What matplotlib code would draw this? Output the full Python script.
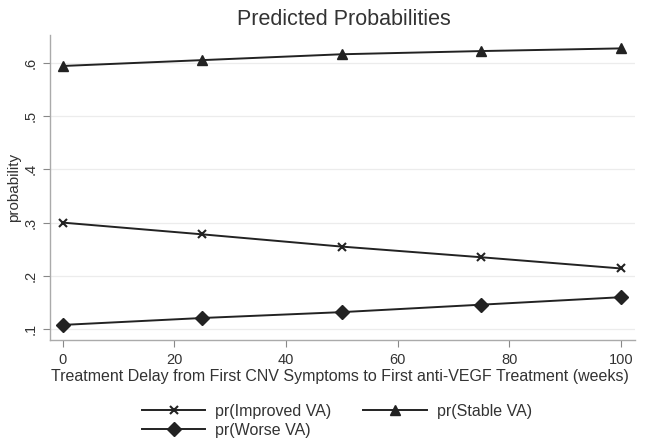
import matplotlib
matplotlib.use('Agg')
import matplotlib.pyplot as plt

# data
delay_weeks = [0, 25, 50, 75, 100]
pr_improved = [0.300, 0.278, 0.255, 0.235, 0.214]
pr_stable = [0.594, 0.605, 0.616, 0.622, 0.627]
pr_worse = [0.108, 0.121, 0.132, 0.146, 0.160]

y_ticks = [0.1, 0.2, 0.3, 0.4, 0.5, 0.6]
y_tick_labels = ['.1', '.2', '.3', '.4', '.5', '.6']
x_ticks = [0, 20, 40, 60, 80, 100]

plt.rcParams['font.family'] = ['Liberation Sans', 'DejaVu Sans']
txt = '#333333'
line_col = '#222222'

fig = plt.figure(figsize=(6.45, 4.44), dpi=100)
ax = fig.add_axes([0.0775, 0.234, 0.9065, 0.687])

h_imp, = ax.plot(delay_weeks, pr_improved, color=line_col, lw=1.4,
                 marker='x', ms=6, mew=1.5, label='pr(Improved VA)')
h_sta, = ax.plot(delay_weeks, pr_stable, color=line_col, lw=1.4,
                 marker='^', ms=7, label='pr(Stable VA)')
h_wor, = ax.plot(delay_weeks, pr_worse, color=line_col, lw=1.4,
                 marker='D', ms=7, label='pr(Worse VA)')

ax.set_xlim(-2.3, 102.5)
ax.set_ylim(0.0795, 0.652)

ax.set_yticks(y_ticks)
ax.set_yticklabels(y_tick_labels, rotation=90, va='center', fontsize=10.5, color=txt)
ax.set_xticks(x_ticks)
ax.set_xticklabels([str(v) for v in x_ticks], fontsize=10.5, color=txt)
ax.tick_params(axis='both', color='#888888', length=5, width=0.8, pad=4)

ax.grid(axis='y', color='#ececec', lw=0.9)
ax.set_axisbelow(True)
for s in ['top', 'right']:
    ax.spines[s].set_visible(False)
for s in ['left', 'bottom']:
    ax.spines[s].set_color('#aaaaaa')
    ax.spines[s].set_linewidth(1.0)

ax.set_ylabel('probability', fontsize=11, color=txt, labelpad=2)

fig.text(0.533, 0.957, 'Predicted Probabilities', ha='center', va='center',
         fontsize=15.5, color=txt)
fig.text(0.527, 0.153,
         'Treatment Delay from First CNV Symptoms to First anti-VEGF Treatment (weeks)',
         ha='center', va='center', fontsize=11.5, color=txt)

fig.legend(handles=[h_imp, h_wor, h_sta], loc='center', ncol=2,
           bbox_to_anchor=(0.522, 0.052), frameon=False, fontsize=11.5,
           handlelength=4.0, handletextpad=0.6, columnspacing=2.0,
           labelspacing=0.25, borderpad=0, labelcolor=txt)

fig.savefig('out.png', dpi=100)
